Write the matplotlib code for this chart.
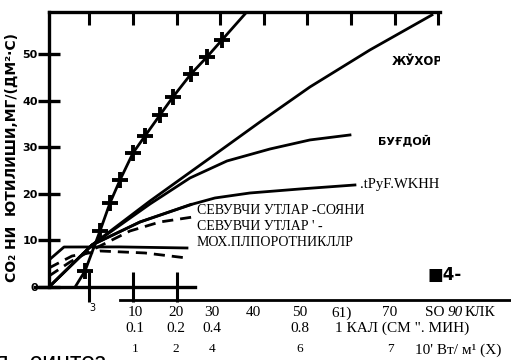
import numpy as np
import matplotlib
matplotlib.use("Agg")
import matplotlib.pyplot as plt
from matplotlib.lines import Line2D

# curves (x: light, y: CO2 uptake)
star_x = [6.7, 8.97, 12.41, 14.70, 17.0, 19.98, 22.73, 26.17, 29.15, 33.28, 36.95, 40.39, 45.67]
star_y = [0.0, 3.43, 12.02, 18.03, 22.96, 28.76, 32.4, 36.91, 40.77, 45.71, 49.36, 53.0, 58.58]
star_mx = star_x[1:-1]
star_my = star_y[1:-1]

maize_x = [0.71, 10.57, 23.88, 37.64, 49.11, 60.57, 74.33, 88.56]
maize_y = [0.0, 9.01, 18.45, 27.68, 35.41, 42.92, 50.86, 58.37]

wheat_x = [0.71, 10.57, 23.88, 33.05, 41.54, 51.40, 60.57, 69.75]
wheat_y = [0.0, 9.01, 17.81, 23.39, 27.04, 29.61, 31.55, 32.62]

rice_x = [10.57, 21.58, 33.74, 38.78, 46.81, 58.28, 70.89]
rice_y = [9.01, 13.95, 17.81, 19.10, 20.17, 21.03, 21.89]

shade_x = [0.71, 10.57, 21.58, 33.2]
shade_y = [0.0, 9.01, 13.95, 17.7]

shade_d_x = [0.71, 5.53, 10.57, 19.29, 26.17, 33.74]
shade_d_y = [2.36, 5.36, 7.94, 12.02, 13.95, 15.02]

moss_x = [0.71, 4.15, 17.0, 32.36]
moss_y = [5.79, 8.58, 8.6, 8.37]

moss_d_x = [0.71, 5.99, 12.41, 22.73, 32.36]
moss_d_y = [4.08, 6.65, 7.73, 7.30, 6.22]

y_ticks = [0, 10, 20, 30, 40, 50]
top_ticks = [10, 20, 30, 40, 50, 60, 70, 80, 90]
bottom_ticks = [10, 20, 30]

row1 = ["10", "20", "30", "40", "50", "61)", "70"]
row1_px = [135, 176, 212, 253, 300, 342, 390]
row2 = ["0.1", "0.2", "0.4", "0.8"]
row2_px = [135, 176, 212, 300]
row3 = ["1", "2", "4", "6", "7"]
row3_px = [135, 176, 212, 300, 390]

W, H = 511, 360
def fx(px): return px / W
def fy(py): return 1 - py / H

fig = plt.figure(figsize=(W / 100, H / 100), dpi=100)
ax = fig.add_axes([fx(49), fy(287), (440 - 49) / W, (287 - 12) / H])
ax.set_xlim(0.71, 90.4)
ax.set_ylim(0, 59)

lw = 2.0
ax.plot(star_x, star_y, color="black", lw=lw)
ax.plot(star_mx, star_my, ls="none", marker="+", ms=12, mew=2.8, color="black")
ax.plot(maize_x, maize_y, color="black", lw=lw)
ax.plot(wheat_x, wheat_y, color="black", lw=lw)
ax.plot(rice_x, rice_y, color="black", lw=lw)
ax.plot(shade_x, shade_y, color="black", lw=lw)
ax.plot(shade_d_x, shade_d_y, color="black", lw=lw, ls=(0, (4, 2.5)))
ax.plot(moss_x, moss_y, color="black", lw=lw)
ax.plot(moss_d_x, moss_d_y, color="black", lw=lw, ls=(0, (4, 2.5)))

for s in ["right", "bottom"]:
    ax.spines[s].set_visible(False)
for s in ["left", "top"]:
    ax.spines[s].set_linewidth(2.4)

ax.set_yticks(y_ticks)
ax.set_yticklabels([str(v) for v in y_ticks], fontsize=8, fontweight="bold")
ax.tick_params(axis="y", direction="inout", length=16, width=2.4, pad=0)

ax.xaxis.tick_top()
ax.set_xticks(top_ticks)
ax.set_xticklabels([])
ax.tick_params(axis="x", direction="in", length=9, width=2.2)

# short bottom axis with its own ticks
ax.add_line(Line2D([-2.5, 34.2], [0, 0], color="black", lw=2.4, clip_on=False))
sec = ax.secondary_xaxis("bottom")
sec.spines["bottom"].set_visible(False)
sec.set_xticks(bottom_ticks)
sec.set_xticklabels([])
sec.tick_params(direction="inout", length=22, width=2.2)

fig.text(fx(12), fy(157), "СО₂ НИ  ЮТИЛИШИ,МГ/(ДМ²·С)", rotation=90,
         ha="center", va="center", fontsize=10, fontweight="bold")

ax.text(79.4, 48.3, "ЖЎХОРИ", fontsize=8.5, fontweight="bold", va="center", clip_on=True)
ax.text(76.2, 31.5, "БУҒДОЙ", fontsize=8, fontweight="bold", va="center", clip_on=True)

serif = "Liberation Serif"
fig.text(fx(360), fy(185), ".tPyF.WKHH", family=serif, fontsize=10.5, va="center")
fig.text(fx(197), fy(210), "СЕВУВЧИ УТЛАР -СОЯНИ", family=serif, fontsize=10, va="center")
fig.text(fx(197), fy(226), "СЕВУВЧИ УТЛАР ' -", family=serif, fontsize=10, va="center")
fig.text(fx(197), fy(243), "МОХ.ПЛПОРОТНИКЛЛР", family=serif, fontsize=10, va="center")
fig.text(fx(427), fy(275), "■4-", fontsize=12, fontweight="bold", va="center")
fig.text(fx(92), fy(308), "3", fontsize=7, ha="center", va="center")

# second scale under the chart
fig.add_artist(Line2D([fx(120), 1.0], [fy(300), fy(300)], color="black", lw=2.0))
for t, p in zip(row1, row1_px):
    fig.text(fx(p), fy(313), t, family=serif, fontsize=11, ha="center", va="center")
fig.text(fx(425), fy(313), "SO", family=serif, fontsize=11, va="center")
fig.text(fx(448), fy(313), "90", family=serif, fontsize=11, style="italic", va="center")
fig.text(fx(465), fy(313), "КЛК", family=serif, fontsize=11, va="center")
for t, p in zip(row2, row2_px):
    fig.text(fx(p), fy(328), t, family=serif, fontsize=11, ha="center", va="center")
fig.text(fx(335), fy(328), '1 КАЛ (СМ ". МИН)', family=serif, fontsize=11, va="center")
for t, p in zip(row3, row3_px):
    fig.text(fx(p), fy(349), t, family=serif, fontsize=9.5, ha="center", va="center")
fig.text(fx(415), fy(350), "10' Вт/ м¹ (X)", family=serif, fontsize=11, va="center")

# fragment of the caption below, cut by the page edge as in the scan
fig.text(fx(-5), fy(370), "я   синтез", family="Liberation Sans", fontsize=18, va="baseline")

fig.savefig("out.png", dpi=100)
